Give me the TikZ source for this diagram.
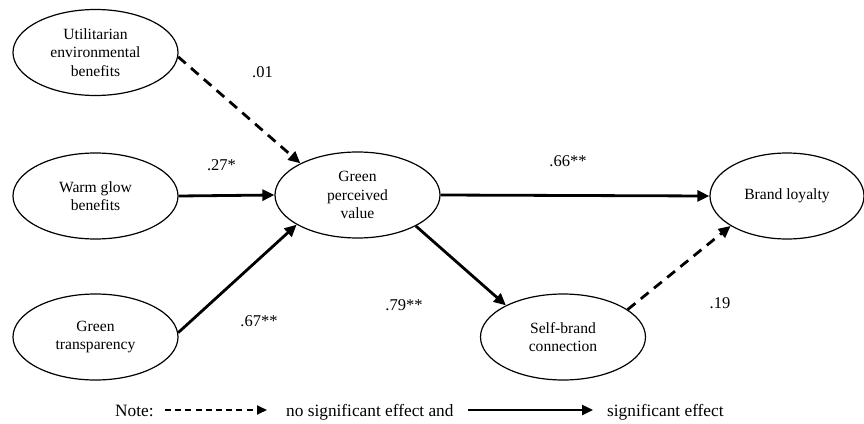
\documentclass[tikz,border=0pt]{standalone}
\usepackage{fontspec}
\setmainfont{Liberation Serif}
\usetikzlibrary{shapes.geometric,arrows.meta}
\tikzset{
  var/.style={ellipse,draw,line width=1.2pt,minimum width=165pt,minimum height=86pt,inner sep=0pt,align=center,font=\fontsize{15.6}{18.3}\selectfont},
  sig/.style={line width=2.8pt,-{Triangle[length=12pt,width=11pt]}},
  nsig/.style={line width=2.8pt,dash pattern=on 10pt off 7pt,-{Triangle[length=12pt,width=11pt]}},
  coef/.style={font=\fontsize{16.5}{18}\selectfont},
  notetxt/.style={font=\fontsize{17.3}{19}\selectfont,anchor=base west,inner sep=0pt}
}
\begin{document}
\begin{tikzpicture}[x=1pt,y=-1pt]
\useasboundingbox (0,0) rectangle (864,423);
\node[var] (util) at (95.5,52.5) {Utilitarian\\environmental\\benefits};
\node[var] (warm) at (95.5,196) {Warm glow\\benefits};
\node[var] (trans) at (95.5,337) {Green\\transparency};
\node[var] (gpv) at (357.5,195) {Green\\perceived\\value};
\node[var,minimum width=154pt] (bl) at (787,196) {Brand loyalty};
\node[var] (sbc) at (563,337) {Self-brand\\connection};

\draw[nsig] (util.-3) -- (gpv.151);
\draw[sig] (warm.east) -- (gpv.west);
\draw[sig] (trans.3) -- (gpv.206);
\draw[sig] (gpv.east) -- (bl.west);
\draw[sig] (gpv.-28) -- (sbc.151);
\draw[nsig] (sbc.23) -- (bl.208);

\node[coef] (c1) at (262.5,72) {.01};
\node[coef] (c2) at (221.5,165) {.27*};
\node[coef] (c3) at (259,321) {.67**};
\node[coef] (c4) at (568,161) {.66**};
\node[coef] (c5) at (404,305) {.79**};
\node[coef] (c6) at (720,303) {.19};

\node[notetxt] (note) at (115,416) {Note:};
\coordinate (d1) at (165,410);
\coordinate (d2) at (267,410);
\draw[line width=1.8pt,dash pattern=on 6pt off 4.2pt,-{Triangle[length=10pt,width=9pt]}] (d1) -- (d2);
\node[notetxt] (nse) at (286,416) {no significant effect and};
\coordinate (s1) at (468,410);
\coordinate (s2) at (593,410);
\draw[line width=2.4pt,-{Triangle[length=11pt,width=10pt]}] (s1) -- (s2);
\node[notetxt] (se) at (607,416) {significant effect};
\end{tikzpicture}
\end{document}
